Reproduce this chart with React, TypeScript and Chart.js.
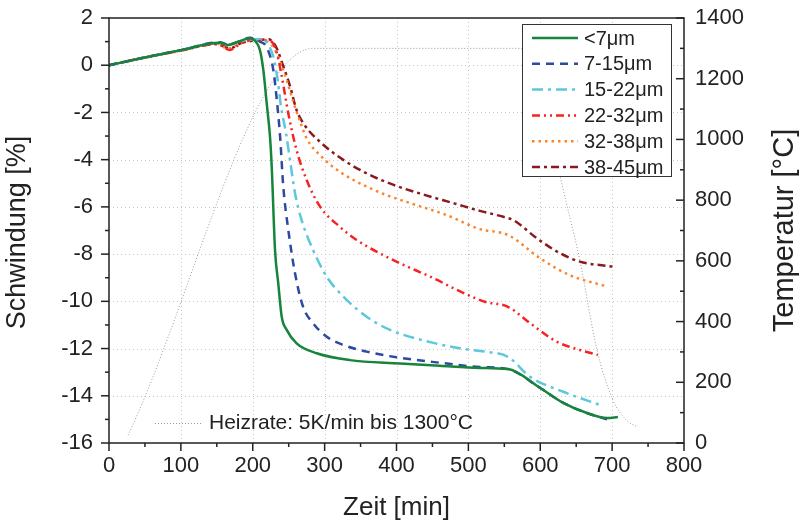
import React, { useEffect, useRef } from "react";
import { Chart, registerables } from "chart.js";

Chart.register(...registerables);

const FONT = "'Liberation Sans', Arial, Helvetica, sans-serif";

// ---- Data ----
const seriesLabels = ["<7μm", "7-15μm", "15-22μm", "22-32μm", "32-38μm", "38-45μm"];

const t_lt7 = [0, 50, 100, 154, 166, 180, 196, 203, 210, 214.7, 219.4, 224, 226.4, 231, 235.5, 240.3, 247.2, 261, 289, 335, 405, 460, 516, 555, 600, 632, 665, 693, 708];
const s_lt7 = [0, 0.33, 0.64, 0.95, 0.86, 1.0, 1.14, 1.04, 0.64, -0.2, -1.61, -3.03, -4.3, -7.83, -9.24, -10.65, -11.21, -11.78, -12.2, -12.49, -12.63, -12.73, -12.82, -12.87, -13.67, -14.3, -14.73, -14.94, -14.9];

const t_7_15 = [0, 50, 100, 154, 166, 180, 196, 210, 219, 228.6, 233, 238, 242.5, 249.5, 258.8, 270, 284, 303, 326, 358.5, 400, 460, 516, 555, 600, 632, 665, 693];
const s_7_15 = [0, 0.33, 0.64, 0.97, 0.87, 1.0, 1.16, 1.0, 0.78, -0.2, -1.33, -3.0, -5.15, -6.98, -8.81, -10.23, -10.93, -11.5, -11.85, -12.13, -12.37, -12.6, -12.78, -12.87, -13.67, -14.3, -14.73, -15.0];

const t_15_22 = [0, 50, 100, 150, 165, 180, 200, 212, 222, 230, 235, 239.3, 246.3, 251.8, 258.8, 268, 284, 303, 326, 358.5, 391, 450, 490, 523, 555, 586, 632, 687];
const s_15_22 = [0, 0.33, 0.64, 0.95, 0.85, 0.98, 1.1, 1.1, 0.85, 0.2, -0.7, -1.76, -2.88, -4.01, -5.42, -6.56, -7.83, -8.96, -9.8, -10.65, -11.21, -11.75, -12.0, -12.13, -12.35, -13.2, -13.83, -14.43];

const t_22_32 = [0, 50, 100, 150, 168, 185, 205, 218, 226, 233, 240, 249.5, 261, 275, 293.6, 321, 344.6, 377, 405, 450, 490, 523, 555, 586, 623, 655, 680];
const s_22_32 = [0, 0.33, 0.62, 0.9, 0.65, 0.95, 1.1, 1.05, 1.0, 0.57, -0.41, -2.04, -3.6, -4.86, -5.99, -6.84, -7.4, -7.97, -8.39, -9.0, -9.6, -10.02, -10.23, -10.93, -11.71, -12.06, -12.27];

const t_32_38 = [0, 50, 100, 150, 165, 185, 205, 220, 230, 240, 250, 258, 266, 275, 298, 321, 349, 386, 420, 470, 516, 555, 600, 641, 694];
const s_32_38 = [0, 0.32, 0.62, 0.92, 0.7, 0.95, 1.08, 1.0, 0.7, 0.0, -0.9, -1.7, -2.4, -3.1, -3.94, -4.51, -5.0, -5.5, -5.85, -6.35, -6.94, -7.19, -8.18, -8.89, -9.38];

const t_38_45 = [0, 50, 100, 150, 168, 185, 205, 222, 232, 242, 252, 261, 272, 296, 326, 358.5, 396, 440, 480, 516, 548.6, 562.5, 597, 628, 655, 701];
const s_38_45 = [0, 0.33, 0.63, 0.9, 0.72, 0.95, 1.05, 1.1, 0.8, 0.0, -0.9, -1.9, -2.53, -3.31, -4.01, -4.58, -5.07, -5.5, -5.85, -6.17, -6.42, -6.56, -7.37, -7.97, -8.32, -8.53];

const t_temp = [26.5, 284, 590, 605, 629, 655, 679, 701, 720, 735];
const temp = [26, 1300, 1300, 1150, 866, 603, 306, 142, 75, 53];

const xTickValues = [0, 100, 200, 300, 400, 500, 600, 700, 800];
const yTickValues = [2, 0, -2, -4, -6, -8, -10, -12, -14, -16];
const tempTickValues = [0, 200, 400, 600, 800, 1000, 1200, 1400];

const annotationText = "Heizrate: 5K/min bis 1300°C";
const xTitle = "Zeit [min]";
const yTitle = "Schwindung [%]";
const y2Title = "Temperatur [°C]";

// ---- Styles ----
const seriesStyles = [
  { color: "#16843a", dash: [] as number[], width: 2.5 },
  { color: "#2b4aa0", dash: [8, 6], width: 2.5 },
  { color: "#5cc8dc", dash: [11, 5, 3, 5], width: 2.5 },
  { color: "#f52323", dash: [8, 4, 2, 4, 2, 4], width: 2.5 },
  { color: "#ff8326", dash: [2.5, 4], width: 2.5 },
  { color: "#8a1a1e", dash: [8, 4, 3, 4], width: 2.5 },
];
const tempStyle = { color: "#9a9a9a", dash: [1, 2], width: 1 };

const zip = (xs: number[], ys: number[]) => xs.map((x, i) => ({ x, y: ys[i] }));
const seriesData = [
  zip(t_lt7, s_lt7),
  zip(t_7_15, s_7_15),
  zip(t_15_22, s_15_22),
  zip(t_22_32, s_22_32),
  zip(t_32_38, s_32_38),
  zip(t_38_45, s_38_45),
];

const minorBetween = (vals: number[]) => {
  const out: number[] = [];
  const s = [...vals].sort((a, b) => a - b);
  for (let i = 0; i < s.length - 1; i++) out.push((s[i] + s[i + 1]) / 2);
  return out;
};

const decorPlugin = {
  id: "decor",
  beforeDatasetsDraw(chart: any) {
    const { ctx, chartArea: a, scales } = chart;
    ctx.save();
    ctx.strokeStyle = "#c6c6c6";
    ctx.lineWidth = 1;
    ctx.setLineDash([1, 3]);
    for (const v of xTickValues) {
      const x = Math.round(scales.x.getPixelForValue(v)) + 0.5;
      if (x <= a.left + 1 || x >= a.right - 1) continue;
      ctx.beginPath();
      ctx.moveTo(x, a.top);
      ctx.lineTo(x, a.bottom);
      ctx.stroke();
    }
    for (const v of yTickValues) {
      const y = Math.round(scales.y.getPixelForValue(v)) + 0.5;
      if (y <= a.top + 1 || y >= a.bottom - 1) continue;
      ctx.beginPath();
      ctx.moveTo(a.left, y);
      ctx.lineTo(a.right, y);
      ctx.stroke();
    }
    ctx.restore();
  },
  afterDatasetsDraw(chart: any) {
    const { ctx, chartArea: a, scales } = chart;
    ctx.save();

    // annotation
    ctx.strokeStyle = tempStyle.color;
    ctx.lineWidth = 1;
    ctx.setLineDash([1, 2]);
    ctx.beginPath();
    ctx.moveTo(155, 423.5);
    ctx.lineTo(203, 423.5);
    ctx.stroke();
    ctx.setLineDash([]);
    ctx.fillStyle = "#222";
    ctx.font = `21px ${FONT}`;
    ctx.textBaseline = "middle";
    ctx.textAlign = "left";
    ctx.fillText(annotationText, 209, 423);

    // frame
    ctx.strokeStyle = "#222";
    ctx.lineWidth = 1.5;
    ctx.strokeRect(a.left, a.top, a.right - a.left, a.bottom - a.top);

    // ticks
    ctx.lineWidth = 1.5;
    const xs = scales.x, ys = scales.y, y2s = scales.y2;
    const drawTick = (x1: number, y1: number, x2: number, y2: number) => {
      ctx.beginPath();
      ctx.moveTo(x1, y1);
      ctx.lineTo(x2, y2);
      ctx.stroke();
    };
    for (const v of xTickValues) { const x = xs.getPixelForValue(v); drawTick(x, a.bottom, x, a.bottom + 8); }
    for (const v of minorBetween(xTickValues)) { const x = xs.getPixelForValue(v); drawTick(x, a.bottom, x, a.bottom + 4); }
    for (const v of yTickValues) { const y = ys.getPixelForValue(v); drawTick(a.left, y, a.left - 8, y); }
    for (const v of minorBetween(yTickValues)) { const y = ys.getPixelForValue(v); drawTick(a.left, y, a.left - 4, y); }
    for (const v of tempTickValues) { const y = y2s.getPixelForValue(v); drawTick(a.right, y, a.right - 8, y); }
    for (const v of minorBetween(tempTickValues)) { const y = y2s.getPixelForValue(v); drawTick(a.right, y, a.right - 4, y); }

    // axis titles
    ctx.fillStyle = "#222";
    ctx.textAlign = "center";
    ctx.textBaseline = "middle";
    const midY = (a.top + a.bottom) / 2;
    ctx.font = `26px ${FONT}`;
    ctx.fillText(xTitle, (a.left + a.right) / 2, 508);
    ctx.save();
    ctx.font = `27px ${FONT}`;
    ctx.translate(18, midY + 2);
    ctx.rotate(-Math.PI / 2);
    ctx.fillText(yTitle, 0, 0);
    ctx.restore();
    ctx.save();
    ctx.font = `29px ${FONT}`;
    ctx.translate(785, midY);
    ctx.rotate(-Math.PI / 2);
    ctx.fillText(y2Title, 0, 0);
    ctx.restore();

    // legend
    const bx = 522, by = 24, bw = 149, bh = 152;
    ctx.fillStyle = "#ffffff";
    ctx.fillRect(bx, by, bw, bh);
    ctx.strokeStyle = "#333";
    ctx.lineWidth = 1;
    ctx.strokeRect(bx + 0.5, by + 0.5, bw, bh);
    ctx.font = `20px ${FONT}`;
    ctx.textAlign = "left";
    ctx.textBaseline = "middle";
    seriesLabels.forEach((lab, i) => {
      const st = seriesStyles[i];
      const y = 38 + i * 25.8;
      ctx.strokeStyle = st.color;
      ctx.lineWidth = st.width;
      ctx.setLineDash(st.dash);
      ctx.beginPath();
      ctx.moveTo(532, y);
      ctx.lineTo(578, y);
      ctx.stroke();
      ctx.setLineDash([]);
      ctx.fillStyle = "#222";
      ctx.fillText(lab, 584, y + 1);
    });

    ctx.restore();
  },
};

const zeroPad = (s: any) => {
  s.paddingTop = 0;
  s.paddingBottom = 0;
  s.paddingLeft = 0;
  s.paddingRight = 0;
};

export default function App() {
  const ref = useRef<HTMLCanvasElement | null>(null);
  useEffect(() => {
    document.body.style.margin = "0";
    const canvas = ref.current;
    if (!canvas) return;
    const datasets: any[] = seriesData.map((d, i) => ({
      label: seriesLabels[i],
      data: d,
      yAxisID: "y",
      borderColor: seriesStyles[i].color,
      borderWidth: seriesStyles[i].width,
      borderDash: seriesStyles[i].dash,
      pointRadius: 0,
      fill: false,
      cubicInterpolationMode: "monotone",
      order: i === 0 ? 0 : i + 1,
    }));
    datasets.push({
      label: "Temperatur",
      data: zip(t_temp, temp),
      yAxisID: "y2",
      borderColor: tempStyle.color,
      borderWidth: tempStyle.width,
      borderDash: tempStyle.dash,
      pointRadius: 0,
      fill: false,
      cubicInterpolationMode: "monotone",
      order: 20,
    });
    const tickFont = { family: FONT, size: 22 };
    const chart = new Chart(canvas, {
      type: "line",
      data: { datasets },
      plugins: [decorPlugin],
      options: {
        responsive: false,
        animation: false,
        devicePixelRatio: 1,
        layout: { padding: { top: 18, left: 0, right: 0, bottom: 0 } },
        plugins: {
          legend: { display: false },
          tooltip: { enabled: false },
        },
        scales: {
          x: {
            type: "linear",
            min: 0,
            max: 800,
            grid: { display: false, drawTicks: false },
            border: { display: false },
            ticks: { stepSize: 100, font: tickFont, color: "#222", padding: 10, maxRotation: 0, autoSkip: false, callback: (v: any) => String(v) },
            afterFit: (s: any) => { s.height = 80; zeroPad(s); },
          },
          y: {
            type: "linear",
            position: "left",
            min: -16,
            max: 2,
            grid: { display: false, drawTicks: false },
            border: { display: false },
            ticks: { stepSize: 2, font: tickFont, color: "#222", padding: 16, autoSkip: false, callback: (v: any) => String(v) },
            afterFit: (s: any) => { s.width = 109; zeroPad(s); },
          },
          y2: {
            type: "linear",
            position: "right",
            min: 0,
            max: 1400,
            grid: { display: false, drawTicks: false },
            border: { display: false },
            ticks: { stepSize: 200, font: tickFont, color: "#222", padding: 11, autoSkip: false, callback: (v: any) => String(v) },
            afterFit: (s: any) => { s.width = 120; zeroPad(s); },
          },
        },
      } as any,
    });
    return () => chart.destroy();
  }, []);
  return (
    <div style={{ width: 804, height: 523 }}>
      <canvas ref={ref} width={804} height={523} style={{ display: "block" }} />
    </div>
  );
}
